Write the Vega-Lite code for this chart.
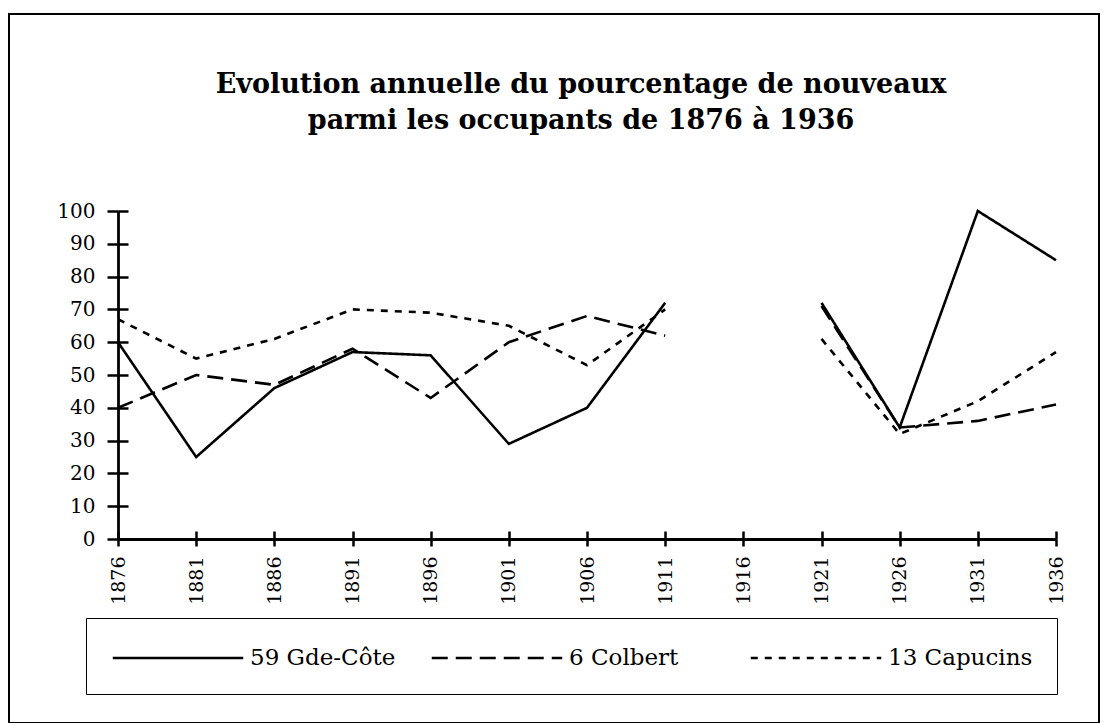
{
  "$schema": "https://vega.github.io/schema/vega-lite/v6.json",
  "autosize": {"type": "none"},
  "padding": {"left": 9, "top": 14, "right": 20, "bottom": 0},
  "width": 1090,
  "height": 709,
  "background": "white",
  "title": {
    "text": ["Evolution annuelle du pourcentage de nouveaux", "parmi les occupants de 1876 à 1936"],
    "anchor": "middle",
    "frame": "group",
    "offset": -142,
    "baseline": "alphabetic",
    "lineHeight": 36,
    "font": "DejaVu Serif",
    "fontSize": 27,
    "fontWeight": "bold",
    "color": "black",
    "dx": 27
  },
  "config": {
    "view": {"stroke": "black", "strokeWidth": 2}
  },
  "data": {
    "values": [
      {"year": 1876, "value": 60, "series": "59 Gde-Côte", "period": "a"},
      {"year": 1881, "value": 25, "series": "59 Gde-Côte", "period": "a"},
      {"year": 1886, "value": 46, "series": "59 Gde-Côte", "period": "a"},
      {"year": 1891, "value": 57, "series": "59 Gde-Côte", "period": "a"},
      {"year": 1896, "value": 56, "series": "59 Gde-Côte", "period": "a"},
      {"year": 1901, "value": 29, "series": "59 Gde-Côte", "period": "a"},
      {"year": 1906, "value": 40, "series": "59 Gde-Côte", "period": "a"},
      {"year": 1911, "value": 72, "series": "59 Gde-Côte", "period": "a"},
      {"year": 1921, "value": 72, "series": "59 Gde-Côte", "period": "b"},
      {"year": 1926, "value": 34, "series": "59 Gde-Côte", "period": "b"},
      {"year": 1931, "value": 100, "series": "59 Gde-Côte", "period": "b"},
      {"year": 1936, "value": 85, "series": "59 Gde-Côte", "period": "b"},
      {"year": 1876, "value": 40, "series": "6 Colbert", "period": "a"},
      {"year": 1881, "value": 50, "series": "6 Colbert", "period": "a"},
      {"year": 1886, "value": 47, "series": "6 Colbert", "period": "a"},
      {"year": 1891, "value": 58, "series": "6 Colbert", "period": "a"},
      {"year": 1896, "value": 43, "series": "6 Colbert", "period": "a"},
      {"year": 1901, "value": 60, "series": "6 Colbert", "period": "a"},
      {"year": 1906, "value": 68, "series": "6 Colbert", "period": "a"},
      {"year": 1911, "value": 62, "series": "6 Colbert", "period": "a"},
      {"year": 1921, "value": 71, "series": "6 Colbert", "period": "b"},
      {"year": 1926, "value": 34, "series": "6 Colbert", "period": "b"},
      {"year": 1931, "value": 36, "series": "6 Colbert", "period": "b"},
      {"year": 1936, "value": 41, "series": "6 Colbert", "period": "b"},
      {"year": 1876, "value": 67, "series": "13 Capucins", "period": "a"},
      {"year": 1881, "value": 55, "series": "13 Capucins", "period": "a"},
      {"year": 1886, "value": 61, "series": "13 Capucins", "period": "a"},
      {"year": 1891, "value": 70, "series": "13 Capucins", "period": "a"},
      {"year": 1896, "value": 69, "series": "13 Capucins", "period": "a"},
      {"year": 1901, "value": 65, "series": "13 Capucins", "period": "a"},
      {"year": 1906, "value": 53, "series": "13 Capucins", "period": "a"},
      {"year": 1911, "value": 70, "series": "13 Capucins", "period": "a"},
      {"year": 1921, "value": 61, "series": "13 Capucins", "period": "b"},
      {"year": 1926, "value": 32, "series": "13 Capucins", "period": "b"},
      {"year": 1931, "value": 42, "series": "13 Capucins", "period": "b"},
      {"year": 1936, "value": 57, "series": "13 Capucins", "period": "b"}
    ]
  },
  "layer": [
    {
      "mark": {"type": "line", "color": "black", "strokeWidth": 2.6},
      "encoding": {
        "x": {
          "field": "year", "type": "quantitative",
          "scale": {"domain": [1876, 1936], "range": [109, 1047], "zero": false, "nice": false},
          "axis": {
            "orient": "bottom", "offset": -184,
            "values": [1876, 1881, 1886, 1891, 1896, 1901, 1906, 1911, 1916, 1921, 1926, 1931, 1936],
            "format": "d", "labelAngle": 270, "labelFont": "DejaVu Serif", "labelFontSize": 19,
            "labelColor": "black", "labelPadding": 10, "labelOverlap": false, "labelFlush": false,
            "tickSize": 7, "tickWidth": 2.5, "tickColor": "black",
            "domainColor": "black", "domainWidth": 2.8, "grid": false, "title": null
          }
        },
        "y": {
          "field": "value", "type": "quantitative",
          "scale": {"domain": [0, 100], "range": [525, 197], "nice": false},
          "axis": {
            "orient": "left", "offset": -109,
            "values": [0, 10, 20, 30, 40, 50, 60, 70, 80, 90, 100],
            "labelFont": "DejaVu Serif", "labelFontSize": 20, "labelColor": "black",
            "labelPadding": 12, "labelOverlap": false, "labelFlush": false,
            "tickSize": 11, "tickWidth": 2.5, "tickColor": "black",
            "domainColor": "black", "domainWidth": 2.8, "grid": false, "title": null
          }
        },
        "strokeDash": {
          "field": "series", "type": "nominal",
          "scale": {"domain": ["59 Gde-Côte", "6 Colbert", "13 Capucins"], "range": [[1, 0], [16, 8], [7, 7]]},
          "legend": {
            "title": null, "orient": "none", "legendX": 77, "legendY": 604,
            "direction": "horizontal", "columns": 3, "gridAlign": "all", "columnPadding": 30,
            "padding": 24, "strokeColor": "black",
            "symbolType": "M-4.5,0H4.5", "symbolSize": 841, "symbolOffset": 52,
            "symbolStrokeWidth": 2.6, "symbolStrokeColor": "black",
            "labelFont": "DejaVu Serif", "labelFontSize": 23, "labelColor": "black", "labelOffset": 56, "labelLimit": 400
          }
        },
        "detail": {"field": "period", "type": "nominal"}
      }
    },
    {
      "mark": {"type": "point", "opacity": 0},
      "encoding": {
        "x": {
          "field": "year", "type": "quantitative",
          "axis": {
            "orient": "bottom", "offset": -184,
            "values": [1876, 1881, 1886, 1891, 1896, 1901, 1906, 1911, 1916, 1921, 1926, 1931, 1936],
            "labels": false, "domain": false, "tickSize": -8, "tickWidth": 2.5, "tickColor": "black",
            "grid": false, "title": null
          }
        },
        "y": {
          "field": "value", "type": "quantitative",
          "axis": {
            "orient": "left", "offset": -109,
            "values": [0, 10, 20, 30, 40, 50, 60, 70, 80, 90, 100],
            "labels": false, "domain": false, "tickSize": -10, "tickWidth": 2.5, "tickColor": "black",
            "grid": false, "title": null
          }
        }
      }
    }
  ],
  "resolve": {"axis": {"x": "independent", "y": "independent"}}
}
